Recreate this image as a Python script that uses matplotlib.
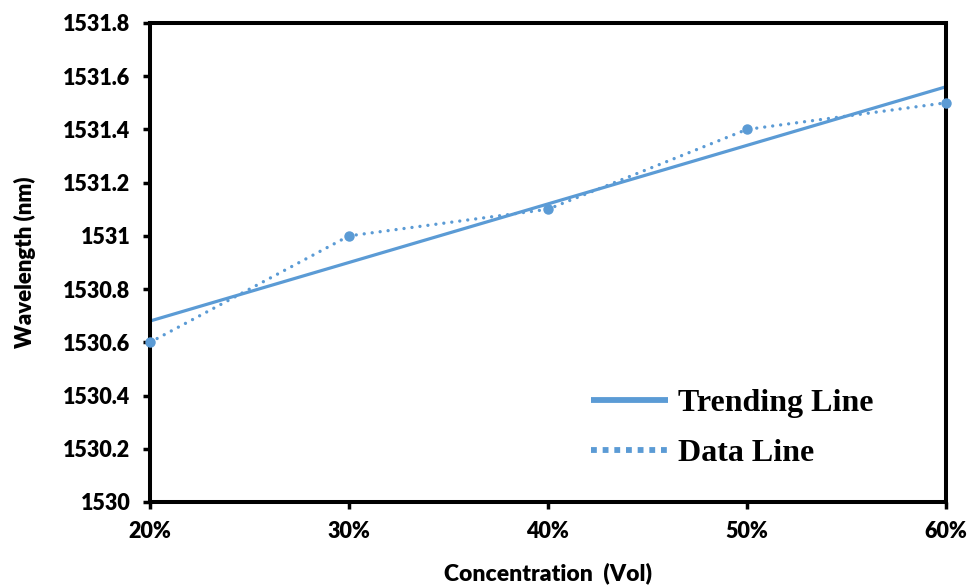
import numpy as np
import matplotlib
matplotlib.use("Agg")
import matplotlib.pyplot as plt
from matplotlib.ticker import FuncFormatter
from matplotlib.lines import Line2D

conc = [20, 30, 40, 50, 60]
wavelength = [1530.6, 1531.0, 1531.1, 1531.4, 1531.5]
y_ticks = [1530, 1530.2, 1530.4, 1530.6, 1530.8, 1531, 1531.2, 1531.4, 1531.6, 1531.8]
x_labels = ["20%", "30%", "40%", "50%", "60%"]

color = "#5B9BD5"
fig = plt.figure(figsize=(9.71, 5.85), dpi=100)
ax = fig.add_axes([0.1545, 0.1419, 0.8195, 0.8188])

coef = np.polyfit(conc, wavelength, 1)
xt = np.array([conc[0], conc[-1]])
ax.plot(xt, np.polyval(coef, xt), color=color, lw=2.3, solid_capstyle="butt", clip_on=False)
ax.plot(conc, wavelength, color=color, lw=2.4, linestyle=(0, (0.01, 2.4)),
        dash_capstyle="round", clip_on=False, zorder=3)
ax.plot(conc, wavelength, "o", color=color, ms=6.5, clip_on=False, zorder=4)

ax.set_xlim(20, 60)
ax.set_ylim(1530, 1531.8)
ax.set_xticks(conc)
ax.set_xticklabels(x_labels)
ax.set_yticks(y_ticks)
ax.yaxis.set_major_formatter(FuncFormatter(lambda v, p: ("%.1f" % v).rstrip("0").rstrip(".")))

for s in ax.spines.values():
    s.set_linewidth(2.9)
    s.set_color("black")
ax.tick_params(axis="both", direction="out", length=5, width=2.5, labelsize=15.5, pad=9)
for lab in ax.get_xticklabels() + ax.get_yticklabels():
    lab.set_fontweight("heavy")
    lab.set_family("Lato")

ax.set_xlabel("Concentration  (Vol)", fontsize=16.5, fontweight="heavy", family="Lato", labelpad=14)
ax.set_ylabel("Wavelength (nm)", fontsize=16, fontweight="heavy", family="Lato", labelpad=20)

handles = [
    Line2D([], [], color=color, lw=4.2, solid_capstyle="butt"),
    Line2D([], [], color=color, lw=4.2, linestyle=(0, (1, 1)), dash_capstyle="butt"),
]
leg = ax.legend(handles, ["Trending Line", "Data Line"], loc="lower right",
                bbox_to_anchor=(0.945, 0.01), frameon=False,
                prop={"family": "Liberation Serif", "weight": "bold", "size": 23},
                handlelength=2.4, handletextpad=0.3, labelspacing=0.65)

fig.savefig("out.png", dpi=100)
